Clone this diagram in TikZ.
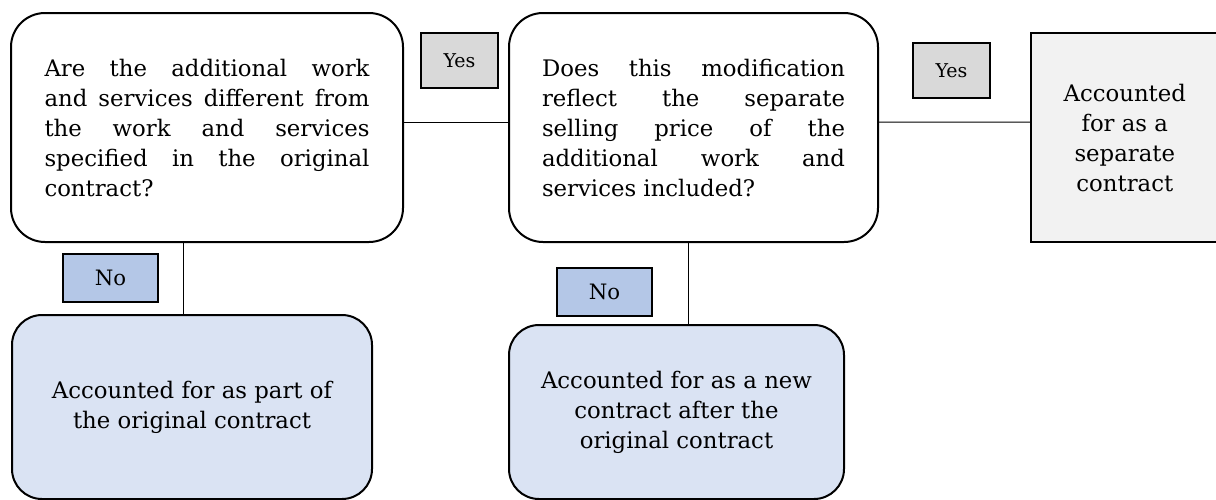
\documentclass[tikz,border=0pt]{standalone}
\usepackage{fontspec}
\setmainfont{DejaVu Serif}
\usetikzlibrary{positioning}
\definecolor{resblue}{RGB}{218,227,243}
\definecolor{noblue}{RGB}{180,199,231}
\definecolor{yesgray}{RGB}{217,217,217}
\definecolor{sepgray}{RGB}{242,242,242}
\newcommand{\mainsize}{\fontsize{11.4}{15}\selectfont}
\newcommand{\yessize}{\fontsize{9.5}{11}\selectfont}
\newcommand{\nosize}{\fontsize{10.6}{12}\selectfont}

\begin{document}
\begin{tikzpicture}[
  x=1pt, y=-1pt,
  qbox/.style={draw, line width=1pt, rounded corners=17pt, minimum height=114.5pt, align=justify, font=\mainsize},
  resbox/.style={draw, line width=1pt, rounded corners=15pt, fill=resblue, align=center, font=\mainsize},
  sepbox/.style={draw, line width=0.8pt, fill=sepgray, minimum width=94pt, minimum height=104.5pt, align=center, font=\mainsize},
  yesbox/.style={draw, line width=1pt, fill=yesgray, minimum width=38.5pt, minimum height=27.5pt, font=\yessize},
  nobox/.style={draw, line width=1pt, fill=noblue, minimum width=47.5pt, minimum height=24pt, font=\nosize},
  link/.style={line width=0.5pt}
]
\useasboundingbox (0,0) rectangle (608,249.5);

% questions
\node[qbox, minimum width=196pt, text width=162.5pt] (q1) at (103.5,63.75)
  {Are the additional work\linebreak and services different from\linebreak the work and services\linebreak specified in the original\linebreak contract?};
\node[qbox, minimum width=184.5pt, text width=151.5pt, right=52pt of q1] (q2)
  {Does this modification\linebreak reflect the separate\linebreak selling price of the\linebreak additional work and\linebreak services included?};

% outcomes
\node[sepbox, anchor=south west] (sep) at ([xshift=75.5pt]q2.south east) {Accounted\\for as a\\separate\\contract};
\node[resbox, minimum width=180pt, minimum height=92pt, anchor=north west] (res1) at ([xshift=0.5pt, yshift=-35.5pt]q1.south west)
  {Accounted for as part of\\the original contract};
\node[resbox, minimum width=167.5pt, minimum height=87pt, anchor=north west] (res2) at ([yshift=-40.5pt]q2.south west)
  {Accounted for as a new\\contract after the\\original contract};

% answers
\node[yesbox, anchor=north west] (yes1) at ([xshift=8pt, yshift=-10pt]q1.north east) {Yes};
\node[yesbox, anchor=north west] (yes2) at ([xshift=16.5pt, yshift=-15pt]q2.north east) {Yes};
\node[nobox, anchor=north west] (no1) at ([xshift=26pt, yshift=-5pt]q1.south west) {No};
\node[nobox, anchor=north west] (no2) at ([xshift=24pt, yshift=-12pt]q2.south west) {No};

% connectors
\draw[link] ([yshift=2.75pt]q1.east) -- ([yshift=2.75pt]q2.west);
\draw[link] ([yshift=2.75pt]q2.east) -- ([yshift=7.75pt]sep.west);
\draw[link] ([xshift=-4.5pt]res1.north) -- ([xshift=-4.5pt]res1.north |- q1.south);
\draw[link] ([xshift=5.75pt]res2.north) -- ([xshift=5.75pt]res2.north |- q2.south);
\end{tikzpicture}
\end{document}
